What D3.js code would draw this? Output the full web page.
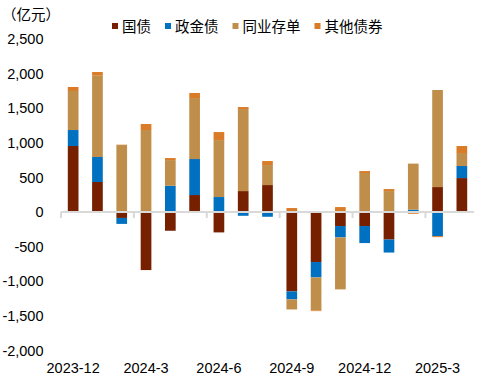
<!DOCTYPE html>
<html>
<head>
<meta charset="utf-8">
<script src="https://cdn.jsdelivr.net/npm/d3@7"></script>
<style>
  body { margin: 0; background: #fff; }
  text { font-family: "Liberation Sans", Arial, "Noto Sans CJK SC", sans-serif; }
</style>
</head>
<body>
<div id="chart"></div>
<script>
// months on the x axis
var months = ["2023-12", "2024-1", "2024-2", "2024-3", "2024-4", "2024-5", "2024-6",
  "2024-7", "2024-8", "2024-9", "2024-10", "2024-11", "2024-12", "2025-1",
  "2025-2", "2025-3", "2025-4"];

// series values (亿元)
var guozhai = [954, 434, -85, -838, -270, 246, -294, 303, 390, -1146, -722, -202, -202, -397, 0, 361, 491];
var zhengjinzhai = [231, 361, -86, 0, 380, 520, 217, -54, -68, -116, -222, -164, -246, -188, 35, -347, 174];
var tongyecundan = [564, 1175, 968, 1185, 371, 881, 823, 1185, 289, -145, -477, -751, 564, 303, 665, 1402, 188];
var qitazhaiquan = [58, 53, 5, 87, 29, 73, 116, 29, 58, 58, -10, 72, 28, 29, -25, -15, 101];

var seriesNames = ["国债", "政金债", "同业存单", "其他债券"];
var colors = ["#762000", "#0070c0", "#bf8e4b", "#da7c27"];

var yTicks = [-2000, -1500, -1000, -500, 0, 500, 1000, 1500, 2000, 2500];
var xTickLabels = ["2023-12", "2024-3", "2024-6", "2024-9", "2024-12", "2025-3"];

var svgWidth = 485;
var svgHeight = 379;

var svg = d3.select("#chart")
  .append("svg")
  .attr("width", svgWidth)
  .attr("height", svgHeight);

// build rows for the stack
var rows = months.map(function(m, i) {
  return {
    month: m,
    "国债": guozhai[i],
    "政金债": zhengjinzhai[i],
    "同业存单": tongyecundan[i],
    "其他债券": qitazhaiquan[i]
  };
});

var stacked = d3.stack()
  .keys(seriesNames)
  .offset(d3.stackOffsetDiverging)(rows);

// scales
var xScale = d3.scaleBand()
  .domain(months)
  .range([61, 474])
  .paddingInner(0.56)
  .paddingOuter(0.28);

var yScale = d3.scaleLinear()
  .domain([-2000, 2500])
  .range([350.5, 39]);

// bars
svg.append("g")
  .selectAll("g")
  .data(stacked)
  .enter()
  .append("g")
  .attr("fill", (d, i) => colors[i])
  .selectAll("rect")
  .data(d => d)
  .enter()
  .append("rect")
  .attr("x", d => xScale(d.data.month))
  .attr("width", xScale.bandwidth())
  .attr("y", d => yScale(Math.max(d[0], d[1])))
  .attr("height", d => Math.abs(yScale(d[0]) - yScale(d[1])));

// y axis labels (no line)
var fmt = d3.format(",");
var leftAxis = d3.axisLeft(yScale)
  .tickValues(yTicks)
  .tickSize(0)
  .tickPadding(0)
  .tickFormat(d => fmt(d).replace("−", "-"));

var yAxis = svg.append("g")
  .attr("transform", "translate(43.5, 0)")
  .call(leftAxis);
yAxis.select(".domain").remove();
yAxis.selectAll("text")
  .attr("font-family", null)
  .style("font-size", "14.5px")
  .attr("fill", "#000");

// x axis line at zero with ticks every 3 months
var zeroY = yScale(0);
var xAxisGroup = svg.append("g");
xAxisGroup.append("line")
  .attr("x1", xScale.range()[0])
  .attr("x2", xScale.range()[1])
  .attr("y1", zeroY)
  .attr("y2", zeroY)
  .attr("stroke", "#d9d9d9")
  .attr("stroke-width", 2);

var tickMonths = months.filter((m, i) => i % 3 === 0);
xAxisGroup.selectAll(".tick")
  .data(tickMonths)
  .enter()
  .append("line")
  .attr("x1", d => xScale(d) - xScale.step() * xScale.paddingInner() / 2)
  .attr("x2", d => xScale(d) - xScale.step() * xScale.paddingInner() / 2)
  .attr("y1", zeroY)
  .attr("y2", zeroY + 6)
  .attr("stroke", "#d9d9d9")
  .attr("stroke-width", 2);

// x tick labels at the bottom
svg.append("g")
  .selectAll("text")
  .data(xTickLabels)
  .enter()
  .append("text")
  .attr("x", d => xScale(d) + xScale.bandwidth() / 2)
  .attr("y", 373)
  .attr("text-anchor", "middle")
  .style("font-size", "14.5px")
  .attr("fill", "#000")
  .text(d => d);

// unit label
svg.append("text")
  .attr("x", 2)
  .attr("y", 20)
  .style("font-size", "14.5px")
  .attr("fill", "#000")
  .text("（亿元）");

// legend
var legend = svg.append("g");
var lx = 112;
seriesNames.forEach(function(name, i) {
  legend.append("rect")
    .attr("x", lx)
    .attr("y", 23)
    .attr("width", 6)
    .attr("height", 6)
    .attr("fill", colors[i]);
  var t = legend.append("text")
    .attr("x", lx + 10)
    .attr("y", 32)
    .style("font-size", "14.5px")
    .attr("fill", "#000")
    .text(name);
  lx = lx + 10 + t.node().getComputedTextLength() + 14;
});
</script>
</body>
</html>
